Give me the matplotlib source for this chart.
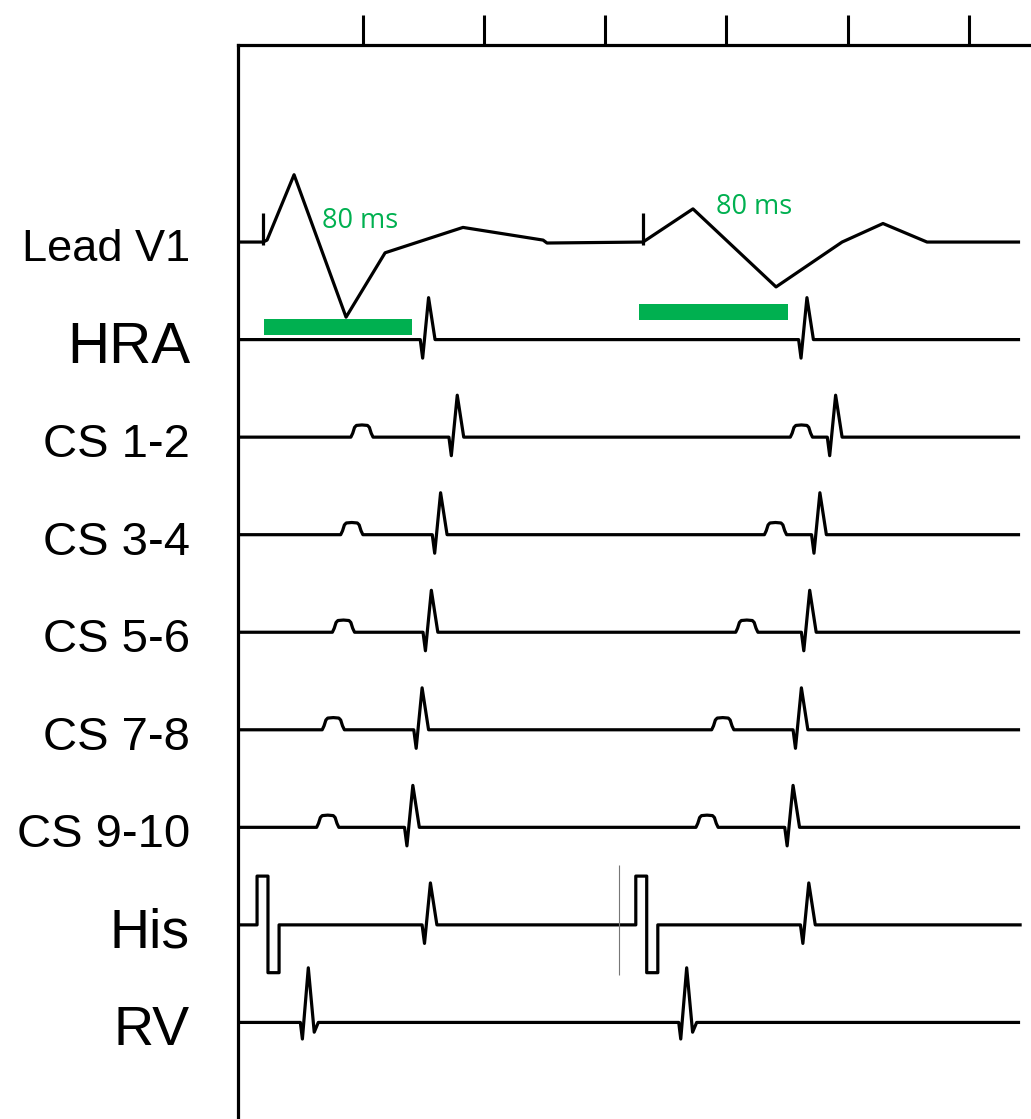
import numpy as np
import matplotlib.pyplot as plt

# Schematic EP tracing, time in ms (two beats), amplitudes in row units
channels = ["Lead V1", "HRA", "CS 1-2", "CS 3-4", "CS 5-6", "CS 7-8", "CS 9-10", "His", "RV"]

# surface ECG lead V1 (corner points of the drawn complex)
v1_time = [0, 13.5, 15.7, 30.3, 58.4, 79.5, 121.6, 164.9, 167.0,
           218.9, 245.9, 290.8, 326.5, 348.6, 372.4, 422.7]
v1_amp = [0, 0, 0.02, 0.69, -0.77, -0.11, 0.15, 0.02, -0.01,
          0, 0.34, -0.46, 0, 0.19, 0, 0]
v1_pacing = [13.5, 218.9]

# intracardiac electrograms
hra_spikes = [103, 307.5]
cs_far_beat1 = [67, 61.5, 57, 51.5, 48.5]
cs_far_beat2 = [304.5, 290.5, 275, 262, 253.5]
cs_spike_beat1 = [118.5, 109.5, 104.5, 99.5, 94.5]
cs_spike_beat2 = [323, 314.5, 309, 304.5, 300]
his_pacing = [10.3, 215]
his_spikes = [104, 308.5]
his_marker = [206]
rv_spikes = [38, 242.5]

# 80 ms calipers
bar_start = [14, 217]
bar_len = 80
bar_y = [-0.87, -0.72]
bar_text = ["80 ms", "80 ms"]
bar_text_x = [66, 279]
bar_text_y = [0.215, 0.36]

tick_times = [67.5, 133, 198.5, 264, 329.5, 395]
t_end = 422.7

# waveform templates (ms offset, amplitude)
spike_dt, spike_amp = [-4.5, -3.2, 0, 3.5], [0, -0.19, 0.43, 0]
rv_dt, rv_amp = [-4.3, -3.2, 0, 3.2, 5.4], [0, -0.17, 0.56, -0.10, 0]
bump_dt = [-6, -5, -4, -3, 0, 3, 4, 5, 6]
bump_amp = [0, 0.04, 0.10, 0.12, 0.125, 0.12, 0.10, 0.04, 0]
pulse_dt = [0, 0, 5.9, 5.9, 11.9, 11.9]
pulse_amp = [0, 0.50, 0.50, -0.49, -0.49, 0]

ROW_PX = 97.6  # pixels per row unit


def build_trace(events):
    """events: list of (time, dt, amp) -> baseline with shapes inserted"""
    xs, ys = [0.0], [0.0]
    for t, dt, amp in sorted(events, key=lambda e: e[0]):
        xs += [t + d for d in dt]
        ys += list(amp)
    xs.append(t_end)
    ys.append(0.0)
    return np.array(xs), np.array(ys)


fig = plt.figure(figsize=(10.31, 11.19), dpi=100)
ax = fig.add_axes([238 / 1031, 0, 1 - 238 / 1031, (1119 - 45) / 1119])
ax.set_xlim(0, 428.6)
ax.set_ylim(-8.99, 2.02)

lw = 2.3
kw = dict(color="black", lw=lw, solid_joinstyle="round", solid_capstyle="butt")

# Lead V1
ax.plot(v1_time, np.array(v1_amp), **kw)
ax.vlines(v1_pacing, -0.03, 0.30, color="black", lw=lw)

# HRA
row = -1
x, y = build_trace([(t, spike_dt, spike_amp) for t in hra_spikes])
ax.plot(x, y + row, **kw)

# CS bipoles
for k in range(5):
    row = -(2 + k)
    ev = [(cs_far_beat1[k], bump_dt, bump_amp), (cs_far_beat2[k], bump_dt, bump_amp),
          (cs_spike_beat1[k], spike_dt, spike_amp), (cs_spike_beat2[k], spike_dt, spike_amp)]
    x, y = build_trace(ev)
    ax.plot(x, y + row, **kw)

# His
row = -7
ev = [(t, pulse_dt, pulse_amp) for t in his_pacing] + [(t, spike_dt, spike_amp) for t in his_spikes]
x, y = build_trace(ev)
ax.plot(x, y + row, color="black", lw=lw, solid_joinstyle="round")
ax.vlines(his_marker, row - 0.51, row + 0.61, color="#777777", lw=0.8)

# RV
row = -8
x, y = build_trace([(t, rv_dt, rv_amp) for t in rv_spikes])
ax.plot(x, y + row, **kw)

# green 80 ms bars
ax.barh(bar_y, bar_len, left=bar_start, height=0.164, color="#00B050")
for s, tx, ty in zip(bar_text, bar_text_x, bar_text_y):
    ax.text(tx, ty, s, ha="center", va="center", color="#00B050",
            fontsize=19.5, family=["Open Sans", "DejaVu Sans"])

# channel labels (the condensed ones in the reference are set a bit smaller)
label_size = {"Lead V1": 32.5, "HRA": 42, "His": 40, "RV": 40}
for i, name in enumerate(channels):
    size = label_size.get(name, 34)
    cap = 0.716 * size * 100 / 72 / ROW_PX
    ax.text(-25.9, -i - 0.03 - cap / 2, name, ha="right", va="baseline",
            fontsize=size, family=["Liberation Sans"], clip_on=False)

# frame: left + top with upward ticks
for side in ["right", "bottom"]:
    ax.spines[side].set_visible(False)
for side in ["left", "top"]:
    ax.spines[side].set_linewidth(2.3)
ax.xaxis.tick_top()
ax.set_xticks(tick_times)
ax.tick_params(axis="x", length=21.6, width=2.2, direction="out", labeltop=False)
ax.set_yticks([])

fig.savefig("out.png", dpi=100)
